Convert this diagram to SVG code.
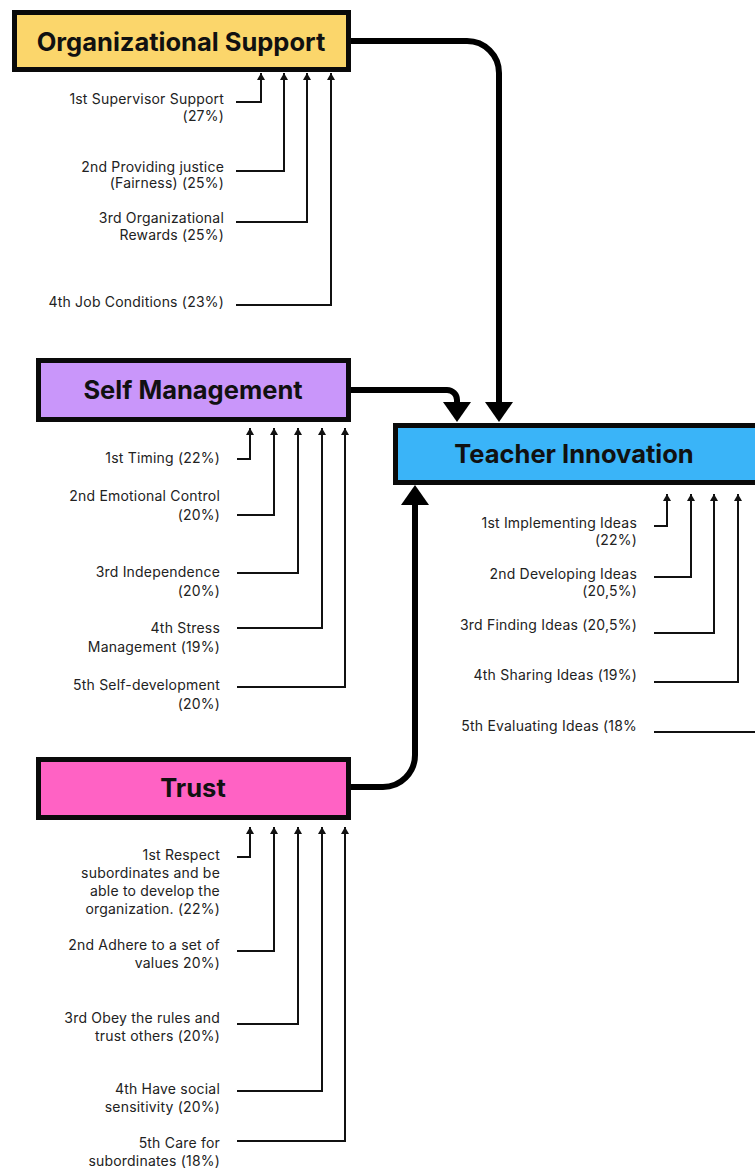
<svg xmlns="http://www.w3.org/2000/svg" width="755" height="1169" viewBox="0 0 755 1169">
<defs>
<style>
.box{stroke:#0a0a0a;stroke-width:5}
.title{font-family:Inter,"Liberation Sans",sans-serif;font-weight:700;font-size:25.5px;fill:#111;text-anchor:middle}
.lbl{font-family:Inter,"Liberation Sans",sans-serif;font-size:14px;letter-spacing:0.2px;fill:#222;text-anchor:end}
.thin{fill:none;stroke:#111;stroke-width:2;marker-end:url(#sm)}
.thick{fill:none;stroke:#000;stroke-width:6;marker-end:url(#big)}
</style>
<marker id="sm" viewBox="0 -4 7 8" refX="7" refY="0" markerWidth="7" markerHeight="8" markerUnits="userSpaceOnUse" orient="auto">
<path d="M0,-4 L7,0 L0,4 z" fill="#111"/>
</marker>
<marker id="big" viewBox="0 -14 20 28" refX="0" refY="0" markerWidth="20" markerHeight="28" markerUnits="userSpaceOnUse" orient="auto">
<path d="M0,-14 L20,0 L0,14 z" fill="#000"/>
</marker>
</defs>
<rect width="755" height="1169" fill="#fff"/>

<g id="connectors">
<path class="thick" d="M351,41 H467 A32,32 0 0 1 499,73 V402"/>
<path class="thick" d="M351,390 H447 A10,10 0 0 1 457,400 V402"/>
<path class="thick" d="M351,787 H383 A32,32 0 0 0 415,755 V505"/>
<!-- org -->
<path class="thin" d="M236,102 H261 V73"/>
<path class="thin" d="M236,171 H284 V73"/>
<path class="thin" d="M236,222 H307 V73"/>
<path class="thin" d="M236,305 H331 V73"/>
<!-- self -->
<path class="thin" d="M237,459 H250 V428"/>
<path class="thin" d="M237,515 H274 V428"/>
<path class="thin" d="M237,573 H298 V428"/>
<path class="thin" d="M237,628 H322 V428"/>
<path class="thin" d="M237,687 H345 V428"/>
<!-- trust -->
<path class="thin" d="M237,857 H250 V827"/>
<path class="thin" d="M237,951 H274 V827"/>
<path class="thin" d="M237,1024 H298 V827"/>
<path class="thin" d="M237,1091 H322 V827"/>
<path class="thin" d="M237,1141 H345 V827"/>
<!-- teacher -->
<path class="thin" d="M654,526 H667 V494"/>
<path class="thin" d="M654,577 H691 V494"/>
<path class="thin" d="M654,633 H714 V494"/>
<path class="thin" d="M654,682 H738 V494"/>
<path fill="none" stroke="#111" stroke-width="2" d="M654,732 H760"/>
</g>

<g id="organizational-support">
<rect class="box" x="14.5" y="12.5" width="334" height="57" fill="#FBD66B"/>
<text class="title" x="181" y="51">Organizational Support</text>
<text class="lbl" x="224" y="104">1st Supervisor Support</text>
<text class="lbl" x="224" y="121">(27%)</text>
<text class="lbl" x="224" y="172">2nd Providing justice</text>
<text class="lbl" x="224" y="188">(Fairness) (25%)</text>
<text class="lbl" x="224" y="223">3rd Organizational</text>
<text class="lbl" x="224" y="240">Rewards (25%)</text>
<text class="lbl" x="224" y="307">4th Job Conditions (23%)</text>
</g>

<g id="self-management">
<rect class="box" x="38.5" y="360.5" width="310" height="59" fill="#C996FA"/>
<text class="title" x="193" y="399">Self Management</text>
<text class="lbl" x="220" y="463">1st Timing (22%)</text>
<text class="lbl" x="220" y="501">2nd Emotional Control</text>
<text class="lbl" x="220" y="520">(20%)</text>
<text class="lbl" x="220" y="577">3rd Independence</text>
<text class="lbl" x="220" y="596">(20%)</text>
<text class="lbl" x="220" y="633">4th Stress</text>
<text class="lbl" x="220" y="652">Management (19%)</text>
<text class="lbl" x="220" y="690">5th Self-development</text>
<text class="lbl" x="220" y="709">(20%)</text>
</g>

<g id="trust">
<rect class="box" x="38.5" y="759.5" width="310" height="58" fill="#FF62C4"/>
<text class="title" x="193" y="797">Trust</text>
<text class="lbl" x="220" y="860">1st Respect</text>
<text class="lbl" x="220" y="878">subordinates and be</text>
<text class="lbl" x="220" y="896">able to develop the</text>
<text class="lbl" x="220" y="914">organization. (22%)</text>
<text class="lbl" x="220" y="950">2nd Adhere to a set of</text>
<text class="lbl" x="220" y="968">values 20%)</text>
<text class="lbl" x="220" y="1023">3rd Obey the rules and</text>
<text class="lbl" x="220" y="1041">trust others (20%)</text>
<text class="lbl" x="220" y="1094">4th Have social</text>
<text class="lbl" x="220" y="1112">sensitivity (20%)</text>
<text class="lbl" x="220" y="1148">5th Care for</text>
<text class="lbl" x="220" y="1166">subordinates (18%)</text>
</g>

<g id="teacher-innovation">
<rect class="box" x="395.5" y="425.5" width="400" height="57" fill="#3AB4F8"/>
<text class="title" x="574" y="463">Teacher Innovation</text>
<text class="lbl" x="637" y="528">1st Implementing Ideas</text>
<text class="lbl" x="637" y="545">(22%)</text>
<text class="lbl" x="637" y="579">2nd Developing Ideas</text>
<text class="lbl" x="637" y="596">(20,5%)</text>
<text class="lbl" x="637" y="630">3rd Finding Ideas (20,5%)</text>
<text class="lbl" x="637" y="680">4th Sharing Ideas (19%)</text>
<text class="lbl" x="637" y="731">5th Evaluating Ideas (18%</text>
</g>
</svg>
